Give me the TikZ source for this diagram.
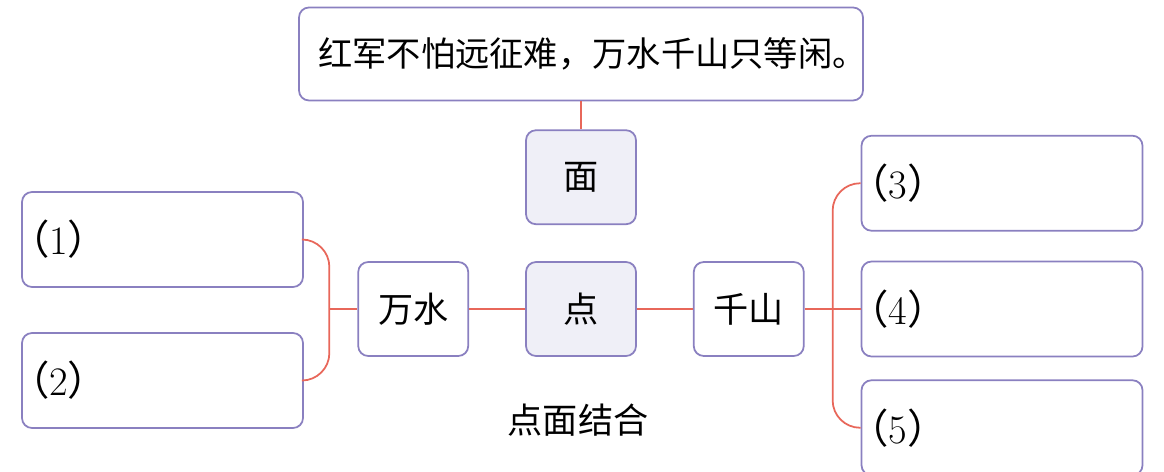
\documentclass[tikz,border=0pt]{standalone}
\usepackage{fontspec}
\newfontfamily\cjk{Noto Sans CJK SC}
\usetikzlibrary{positioning,calc}
\definecolor{boxline}{HTML}{8A80C0}
\definecolor{linkred}{HTML}{E8675A}
\definecolor{boxfill}{HTML}{EFEFF7}
\newcommand{\blankno}[1]{\kern-0.26cm{\cjk （}#1{\cjk ）}}

\begin{document}
\begin{tikzpicture}[
    node distance=1.12cm,
    box/.style={draw=boxline, line width=1pt, rounded corners=0.2cm, minimum width=2.2cm, minimum height=1.88cm, font=\cjk\fontsize{20}{24}\selectfont, inner sep=0pt},
    keybox/.style={box, fill=boxfill},
    answer/.style={draw=boxline, line width=1pt, rounded corners=0.2cm, minimum height=1.9cm, font=\fontsize{23}{26}\selectfont, inner xsep=0pt, text width=5.62cm, align=left},
    link/.style={draw=linkred, line width=1pt},
]
\useasboundingbox (0,0) rectangle (23.28,-9.44);
\node[keybox] (dian) at (11.62,-6.18) {点};
\node[keybox, above=0.72cm of dian] (mian) {面};
\node[box, minimum width=11.28cm, minimum height=1.86cm, font=\cjk\fontsize{19.5}{22}\selectfont, above=0.56cm of mian] (poem) {\makebox[11.28cm]{\hspace*{0.46cm}红军不怕远征难，万水千山只等闲。}};
\node[box, left=of dian] (wanshui) {万水};
\node[box, right=of dian] (qianshan) {千山};
\node[answer] (ans1) at (3.25,-4.79) {\blankno{1}};
\node[answer] (ans2) at (3.25,-7.61) {\blankno{2}};
\node[answer, right=of qianshan] (ans4) {\blankno{4}};
\node[answer, above=0.58cm of ans4] (ans3) {\blankno{3}};
\node[answer, below=0.44cm of ans4] (ans5) {\blankno{5}};
\node[font=\cjk\fontsize{20}{24}\selectfont] (caption) at (11.56,-8.4) {点面结合};

% connectors
\draw[link] (poem) -- (mian);
\draw[link] (wanshui) -- (dian);
\draw[link] (dian) -- (qianshan);
\coordinate (ljoin) at ($(wanshui.west)+(-0.56,0)$);
\coordinate (rjoin) at ($(ans4.west)+(-0.56,0)$);
\draw[link] (ljoin) -- (wanshui.west);
\draw[link, rounded corners=0.55cm] (ans1.east) -| (ljoin) |- (ans2.east);
\draw[link] (qianshan) -- (ans4);
\draw[link, rounded corners=0.55cm] (ans3.west) -| (rjoin) |- (ans5.west);
\end{tikzpicture}
\end{document}
